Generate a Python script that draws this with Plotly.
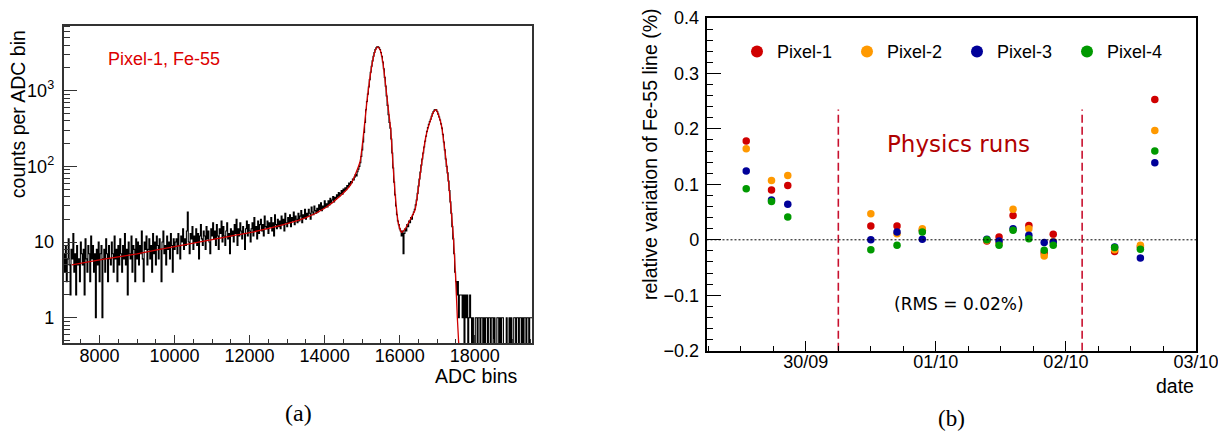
import numpy as np
import plotly.graph_objects as go

# ---------------- Panel (a): Fe-55 spectrum ----------------
bin_lo = 7040
bin_w = 25
counts = [
    # 7040 - 10040
    7, 4, 9, 3, 6, 11, 5, 2, 8, 6,
    13, 4, 7, 2, 9, 5, 6, 3, 10, 7,
    5, 8, 2, 11, 6, 4, 9, 7, 3, 12,
    6, 9, 4, 7, 1, 8, 5, 10, 3, 7,
    9, 1, 6, 8, 4, 11, 7, 3, 9, 6,
    5, 10, 7, 4, 12, 6, 8, 3, 9, 5,
    11, 7, 4, 9, 6, 13, 5, 8, 2, 10,
    7, 6, 12, 4, 9, 8, 3, 11, 6, 10,
    5, 9, 7, 14, 6, 3, 10, 8, 12, 5,
    8, 11, 6, 9, 4, 13, 7, 10, 5, 12,
    9, 6, 11, 8, 3, 10, 14, 7, 9, 5,
    12, 8, 10, 6, 13, 9, 4, 11, 8, 10,
    # 10040 - 14040
    11, 7, 13, 9, 6, 12, 10, 15, 8, 11,
    9, 14, 25, 10, 7, 13, 11, 16, 8, 12,
    10, 15, 9, 13, 6, 12, 17, 11, 9, 14,
    12, 8, 16, 11, 14, 10, 7, 15, 12, 18,
    11, 14, 9, 17, 12, 8, 15, 13, 19, 10,
    16, 12, 9, 14, 18, 11, 13, 7, 15, 12,
    14, 10, 17, 13, 20, 9, 15, 12, 18, 14,
    11, 16, 13, 8, 15, 19, 12, 17, 14, 10,
    15, 18, 12, 21, 14, 16, 11, 19, 13, 17,
    20, 14, 17, 12, 22, 16, 15, 19, 13, 18,
    16, 21, 14, 18, 12, 23, 17, 15, 20, 16,
    19, 15, 22, 17, 20, 14, 24, 18, 16, 21,
    18, 23, 16, 21, 19, 25, 17, 22, 20, 18,
    24, 19, 22, 26, 18, 23, 21, 27, 20, 24,
    22, 27, 24, 20, 29, 25, 23, 30, 26, 24,
    28, 25, 31, 27, 33, 26, 30, 28, 35, 29,
    # 14040 - 15040
    32, 29, 35, 31, 38, 33, 36, 40, 34, 39,
    37, 42, 39, 45, 41, 44, 48, 43, 50, 47,
    52, 49, 56, 53, 60, 57, 63, 61, 68, 66,
    72, 78, 75, 85, 92, 100, 112, 135, 165, 210,
    # 15040 - 17640
    280, 380, 560, 720, 900, 1120, 1400, 1750, 2100, 2480,
    2850, 3200, 3500, 3700, 3800, 3800, 3700, 3500, 3200, 2850,
    2400, 1950, 1500, 1150, 850, 640, 480, 380, 320, 230,
    150, 95, 62, 42, 30, 23, 19, 17, 15, 14,
    12, 14, 7, 13, 15, 14, 17, 16, 19, 18,
    21, 20, 23, 25, 27, 31, 36, 44, 55, 68,
    84, 104, 125, 150, 180, 215, 250, 290, 325, 360,
    390, 420, 460, 500, 530, 555, 565, 560, 530, 490,
    450, 410, 365, 320, 265, 210, 165, 125, 100, 82,
    64, 48, 34, 24, 16, 11, 7, 4, 3, 2,
    3, 1, 2, 2,
    # 17640 - 19540
    2, 1, 2, 0, 2, 1, 2, 0, 1, 2,
    1, 0, 1, 0, 0, 1, 1, 0, 1, 1,
    0, 1, 1, 0, 1, 0, 1, 1, 0, 1,
    1, 0, 1, 1, 0, 1, 0, 0, 1, 1,
    0, 1, 0, 1, 1, 0, 0, 0, 1, 0,
    0, 1, 0, 1, 0, 0, 1, 1, 0, 1,
    1, 0, 1, 1, 0, 1, 0, 1, 1, 0,
    1, 1, 0, 1, 1, 1,
]
fit_adc = [7260, 8000, 9000, 10000, 11000, 12000, 13000, 13500, 14000, 14400,
           14700, 14944, 15030, 15122, 15200, 15282, 15350, 15415, 15480, 15550,
           15610, 15690, 15762, 15820, 15877, 15965, 16055, 16150, 16250, 16409,
           16500, 16587, 16700, 16809, 16900, 16969, 17040, 17120, 17200, 17298,
           17370, 17431, 17490, 17537, 17580]
fit_val = [5.0, 5.8, 7.0, 8.7, 10.8, 13.3, 17.5, 21, 28, 40,
           58, 115, 250, 680, 1400, 2500, 3400, 3800, 3450, 2400,
           1385, 620, 302, 110, 44, 17.7, 13.4, 15, 18.5, 26.5,
           52, 110, 250, 390, 520, 560, 470, 334, 170, 66,
           27, 11.8, 3.5, 1.0, 0.4]

# ---------------- Panel (b): Fe-55 line stability ----------------
run_times = ["2017-09-29 13:00", "2017-09-29 17:40", "2017-09-29 20:40",
             "2017-09-30 12:00", "2017-09-30 16:50", "2017-09-30 21:30",
             "2017-10-01 09:25", "2017-10-01 11:40", "2017-10-01 14:15",
             "2017-10-01 17:10", "2017-10-01 20:00", "2017-10-01 21:40",
             "2017-10-02 09:00", "2017-10-02 13:45", "2017-10-02 16:25"]
pixel1 = [0.178, 0.090, 0.098, 0.025, 0.025, 0.017, -0.002, 0.005, 0.044, 0.026, -0.024, 0.010, -0.021, -0.013, 0.253]
pixel2 = [0.164, 0.107, 0.116, 0.047, 0.011, 0.020, -0.001, -0.006, 0.055, 0.020, -0.029, -0.003, -0.018, -0.010, 0.197]
pixel3 = [0.124, 0.072, 0.064, 0.000, 0.014, 0.001, 0.001, -0.002, 0.020, 0.008, -0.005, -0.004, -0.013, -0.033, 0.139]
pixel4 = [0.092, 0.069, 0.041, -0.018, -0.010, 0.014, 0.000, -0.010, 0.017, 0.002, -0.019, -0.010, -0.014, -0.017, 0.160]
series_names = ["Pixel-1", "Pixel-2", "Pixel-3", "Pixel-4"]
series_colors = ["#d00000", "#ff9900", "#000099", "#009900"]
physics_bounds = ["2017-09-30 06:00", "2017-10-02 03:00"]
physics_top = 0.235

# the page body adds an 8 px margin: the figure is sized/offset to compensate
OFF = 8
W, H = 1226 - OFF, 432 - OFF
SANS = "Liberation Sans, Arial, sans-serif"


def px(x):
    return (x - OFF) / W


def py(y):
    return 1 - (y - OFF) / H


fig = go.Figure()

# histogram as a step line (empty bins drop below the axis floor)
centers = bin_lo + bin_w * (np.arange(len(counts)) + 0.5)
cnt = np.array(counts, dtype=float)
cnt_draw = np.where(cnt > 0, cnt, 1e-3)
fig.add_trace(go.Scatter(x=centers, y=cnt_draw, mode="lines", line=dict(color="black", width=1.1, shape="hvh"),
                         xaxis="x", yaxis="y", showlegend=False, hoverinfo="skip"))
fig.add_trace(go.Scatter(x=fit_adc, y=fit_val, mode="lines",
                         line=dict(color="#d00000", width=1.3, shape="spline", smoothing=0.5),
                         xaxis="x", yaxis="y", showlegend=False, hoverinfo="skip"))

# physics-run boundaries
for t in physics_bounds:
    fig.add_trace(go.Scatter(x=[t, t], y=[-0.2, physics_top], mode="lines",
                             line=dict(color="#c8102e", width=1.6, dash="8px,4px"),
                             xaxis="x2", yaxis="y2", showlegend=False, hoverinfo="skip"))

for name, col, vals in zip(series_names, series_colors, [pixel1, pixel2, pixel3, pixel4]):
    fig.add_trace(go.Scatter(x=run_times, y=vals, mode="markers", name=name,
                             marker=dict(color=col, size=7.5, line=dict(width=0)),
                             xaxis="x2", yaxis="y2"))

fig.add_shape(type="line", xref="x2 domain", yref="y2", x0=0, x1=1, y0=0, y1=0,
              line=dict(color="black", width=1, dash="2px,2px"))

tickfont = dict(family=SANS, size=18, color="black")

minor_log = [0.5, 0.6, 0.7, 0.8, 0.9] + [m * 10 ** e for e in range(0, 4) for m in range(2, 10) if m * 10 ** e < 7300]

fig.update_layout(
    width=W, height=H, margin=dict(l=0, r=0, t=0, b=0, autoexpand=False),
    paper_bgcolor="white", plot_bgcolor="white",
    xaxis=dict(domain=[px(63.5), px(532.3)], range=[7040, 19535], anchor="y",
               showline=True, mirror=True, linecolor="#333", linewidth=1.5,
               ticks="inside", ticklen=9, tickcolor="#333", tick0=0, dtick=2000, tickformat="d",
               minor=dict(ticks="inside", ticklen=4.5, tick0=0, dtick=500, tickcolor="#333"),
               showgrid=False, zeroline=False, tickfont=tickfont, ticklabelstandoff=-5),
    yaxis=dict(domain=[py(343.3), py(25.7)], type="log", range=[-0.338, 3.859], anchor="x",
               showline=True, mirror=True, linecolor="#333", linewidth=1.5,
               ticks="inside", ticklen=14, tickcolor="#333",
               tickmode="array", tickvals=[1, 10, 100, 1000],
               ticktext=["1", "10", "10<sup>2</sup>", "10<sup>3</sup>"],
               minor=dict(ticks="inside", ticklen=7, tickmode="array", tickvals=minor_log, tickcolor="#333"),
               showgrid=False, zeroline=False, tickfont=tickfont, ticklabelstandoff=4),
    xaxis2=dict(domain=[px(706.5), px(1196)], type="date",
                range=["2017-09-29 05:40", "2017-10-03 00:01"], anchor="y2",
                showline=True, mirror=True, linecolor="black", linewidth=1.5,
                ticks="inside", ticklen=10, tickcolor="black",
                tick0="2017-09-29", dtick=86400000, tickformat="%d/%m",
                minor=dict(ticks="inside", ticklen=5, tick0="2017-09-29", dtick=21600000, tickcolor="black"),
                showgrid=False, zeroline=False, tickfont=tickfont, ticklabelstandoff=-6),
    yaxis2=dict(domain=[py(350.7), py(18)], range=[-0.2, 0.4], anchor="x2",
                showline=True, mirror=True, linecolor="black", linewidth=1.5,
                ticks="inside", ticklen=15, tickcolor="black", tick0=0, dtick=0.1,
                minor=dict(ticks="inside", ticklen=7, tick0=0, dtick=0.02, tickcolor="black"),
                showgrid=False, zeroline=False, tickfont=tickfont, ticklabelstandoff=2),
    legend=dict(orientation="h", x=px(737), y=py(51.7), xanchor="left", yanchor="middle",
                bgcolor="rgba(0,0,0,0)", borderwidth=0, entrywidth=65, entrywidthmode="pixels",
                font=dict(family=SANS, size=18, color="black"), itemsizing="constant"),
    showlegend=True,
)

ann = [
    dict(text="counts per ADC bin", x=px(17.5), y=py(114.7), textangle=-90, font=dict(family=SANS, size=19.5)),
    dict(text="ADC bins", x=px(520), y=py(376), xanchor="right", font=dict(family=SANS, size=19.5)),
    dict(text="Pixel-1, Fe-55", x=px(106), y=py(59), xanchor="left", font=dict(family=SANS, size=18, color="#dd0000")),
    dict(text="(a)", x=px(298.8), y=py(413), font=dict(family="Liberation Serif, serif", size=24)),
    dict(text="relative variation of Fe-55 line (%)", x=px(650), y=py(154), textangle=-90, font=dict(family=SANS, size=19.5)),
    dict(text="date", x=px(1196), y=py(385.7), xanchor="right", font=dict(family=SANS, size=19.5)),
    dict(text="(b)", x=px(951), y=py(418.5), font=dict(family="Liberation Serif, serif", size=23)),
    dict(text="Physics runs", x=px(958), y=py(144), font=dict(family="DejaVu Sans", size=23, color="#b00000")),
    dict(text="(RMS = 0.02%)", x=px(959), y=py(304), font=dict(family="DejaVu Sans", size=17, color="black")),
]
for a in ann:
    a.setdefault("xanchor", "center")
    a.update(xref="paper", yref="paper", yanchor="middle", showarrow=False)
    a["font"].setdefault("color", "black")
fig.update_layout(annotations=ann)

fig.write_html("out.html")
